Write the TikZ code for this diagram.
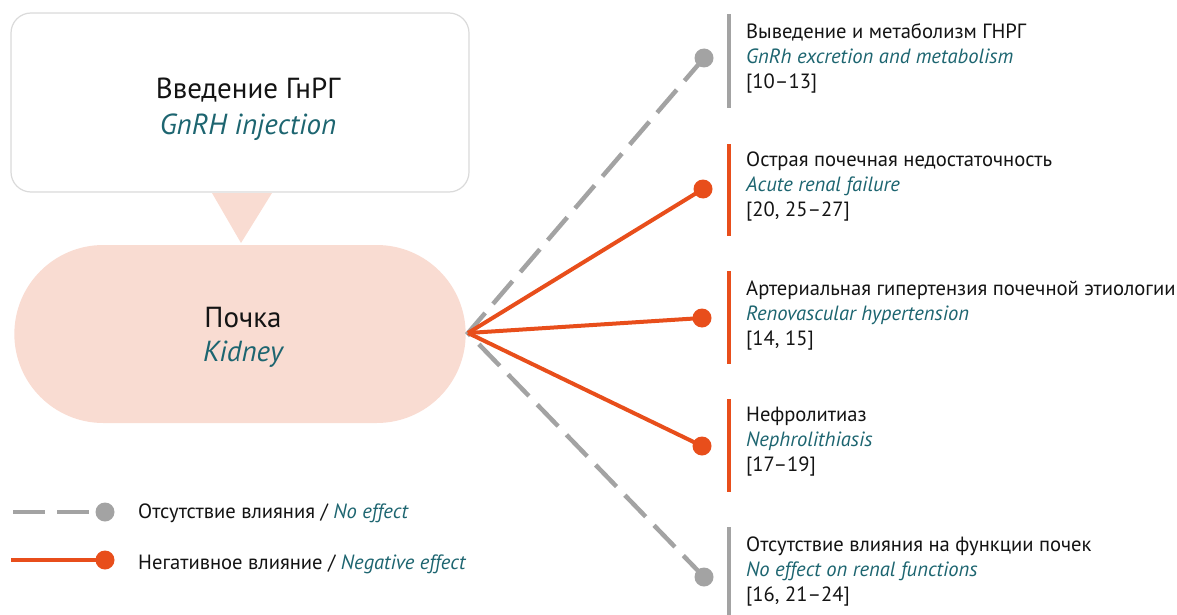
\documentclass[tikz,border=0pt]{standalone}
\usepackage{fontspec}
\setmainfont{PT Sans}
\usetikzlibrary{positioning}
\usetikzlibrary{shapes.misc}
\definecolor{rust}{HTML}{E84E1B}
\definecolor{ash}{HTML}{A3A3A3}
\definecolor{blush}{HTML}{F9DCD2}
\definecolor{frame}{HTML}{DADADA}
\definecolor{sea}{HTML}{1D6570}
\definecolor{ink}{HTML}{141414}
\newcommand{\en}[1]{{\itshape\color{sea}#1}}
\tikzset{
  dot/.style={circle,fill=#1,inner sep=0pt,minimum size=19pt},
  noeff/.style={ash,line width=4.5pt,dash pattern=on 30pt off 12pt},
  negeff/.style={rust,line width=4pt},
  bar/.style={line width=3.5pt},
  lbl/.style={anchor=west,inner sep=0pt,align=left,text=ink,font=\fontsize{20.6}{25}\selectfont},
  legtext/.style={anchor=west,inner sep=0pt,text=ink,font=\fontsize{20.6}{25}\selectfont}
}

\begin{document}
\begin{tikzpicture}[x=1pt,y=-1pt]
\useasboundingbox (0,0) rectangle (1177,615);
\node[draw=frame,line width=1.2pt,fill=white,rounded corners=20pt,minimum width=458pt,minimum height=179pt] (inj) at (240,102.5) {};
\node[align=center,text=ink,font=\fontsize{29}{36}\selectfont] (injtext) at (inj.center) [xshift=8pt,yshift=-7pt] {Введение ГнРГ\\\en{GnRH injection}};
\fill[blush] (212,193) -- (272,193) -- (241,243) -- cycle;
\node[rounded rectangle,fill=blush,minimum width=458pt,minimum height=178pt] (kid) at (240,334) {};
\node[align=center,text=ink,font=\fontsize{29}{34}\selectfont] (kidtext) at (kid.center) [xshift=3pt,yshift=-3pt] {Почка\\\en{Kidney}};
\coordinate (hub) at (468,333);

\node[dot=ash] (d1) at (704,58) {};
\node[dot=rust] (d2) at (703,189) {};
\node[dot=rust] (d3) at (702,318) {};
\node[dot=rust] (d4) at (702,446) {};
\node[dot=ash] (d5) at (704,577) {};

\draw[noeff,miter limit=10] (d1.center) -- (hub) -- (d5.center);
\draw[negeff] (hub) -- (d2.center);
\draw[negeff] (hub) -- (d3.center);
\draw[negeff] (hub) -- (d4.center);

\draw[bar,ash] (729,14) -- (729,108);
\draw[bar,rust] (729,144) -- (729,236);
\draw[bar,rust] (729,271) -- (729,364);
\draw[bar,rust] (729,399) -- (729,492);
\draw[bar,ash] (729,527) -- (729,615);

\node[lbl] (t1) at (746,58) {Выведение и метаболизм ГНРГ\\\en{GnRh excretion and metabolism}\\{}[10--13]};
\node[lbl] (t2) at (746,187) {Острая почечная недостаточность\\\en{Acute renal failure}\\{}[20, 25--27]};
\node[lbl] (t3) at (746,316) {Артериальная гипертензия почечной этиологии\\\en{Renovascular hypertension}\\{}[14, 15]};
\node[lbl] (t4) at (746,442) {Нефролитиаз\\\en{Nephrolithiasis}\\{}[17--19]};
\node[lbl] (t5) at (746,572) {Отсутствие влияния на функции почек\\\en{No effect on renal functions}\\{}[16, 21--24]};

\coordinate (g0) at (13,512);
\node[dot=ash] (g1) at (105,512) {};
\draw[noeff,dash pattern=on 32pt off 12pt] (g0) -- (g1.center);
\node[legtext] (g2) at (138,513) {Отсутствие влияния / \en{No effect}};

\coordinate (r0) at (11,560);
\node[dot=rust] (r1) at (105,560) {};
\draw[negeff] (r0) -- (r1.center);
\node[legtext] (r2) at (138,564) {Негативное влияние / \en{Negative effect}};
\end{tikzpicture}
\end{document}
